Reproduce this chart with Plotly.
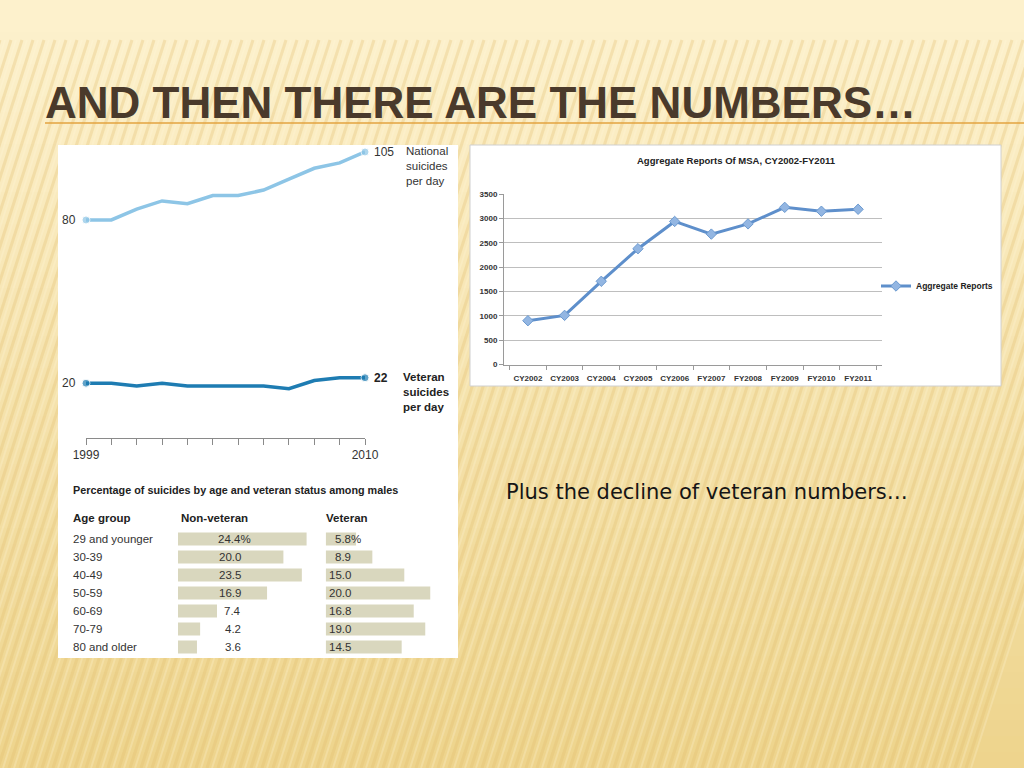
import plotly.graph_objects as go

W, H = 1024, 768
def fx(x): return x / W
def fy(y): return 1 - y / H

# ---------------- data ----------------
years = list(range(1999, 2011))
national_per_day = [80, 80, 84, 87, 86, 89, 89, 91, 95, 99, 101, 105]
veteran_per_day = [20, 20, 19, 20, 19, 19, 19, 19, 18, 21, 22, 22]
year_tick_text = ["1999"] + [""] * 10 + ["2010"]

age_groups = ["29 and younger", "30-39", "40-49", "50-59", "60-69", "70-79", "80 and older"]
non_veteran_pct = [24.4, 20.0, 23.5, 16.9, 7.4, 4.2, 3.6]
veteran_pct = [5.8, 8.9, 15.0, 20.0, 16.8, 19.0, 14.5]

msa_periods = ["CY2002", "CY2003", "CY2004", "CY2005", "CY2006",
               "FY2007", "FY2008", "FY2009", "FY2010", "FY2011"]
msa_reports = [900, 1010, 1710, 2380, 2940, 2680, 2890, 3230, 3150, 3190]

# ---------------- figure ----------------
fig = go.Figure()

LEFT_FONT = "Liberation Sans, Arial, sans-serif"
XL_FONT = "Liberation Sans, Arial, sans-serif"

# left line chart
fig.add_trace(go.Scatter(
    x=years, y=national_per_day, mode="lines+markers",
    line=dict(color="#8DC5E6", width=3.5),
    marker=dict(size=[8] + [0] * 10 + [8], color="#8DC5E6"),
    cliponaxis=False, showlegend=False, hoverinfo="skip",
    xaxis="x", yaxis="y"))
fig.add_trace(go.Scatter(
    x=years, y=veteran_per_day, mode="lines+markers",
    line=dict(color="#1E7CB2", width=3.5),
    marker=dict(size=[8] + [0] * 10 + [8], color="#1E7CB2"),
    cliponaxis=False, showlegend=False, hoverinfo="skip",
    xaxis="x", yaxis="y"))

# table bars
fig.add_trace(go.Bar(
    y=age_groups, x=non_veteran_pct, orientation="h",
    marker=dict(color="#D9D7BE", line=dict(width=0)),
    showlegend=False, hoverinfo="skip", xaxis="x2", yaxis="y2"))
fig.add_trace(go.Bar(
    y=age_groups, x=veteran_pct, orientation="h",
    marker=dict(color="#D9D7BE", line=dict(width=0)),
    showlegend=False, hoverinfo="skip", xaxis="x3", yaxis="y2"))

# right chart
fig.add_trace(go.Scatter(
    x=msa_periods, y=msa_reports, mode="lines+markers",
    name="Aggregate Reports",
    line=dict(color="#5E8FCB", width=3),
    marker=dict(symbol="diamond", size=8, color="#93B6E2",
                line=dict(color="#6C9AD0", width=1)),
    cliponaxis=False, hoverinfo="skip", xaxis="x4", yaxis="y4"))

# ---------------- shapes (background & panels) ----------------
shapes = []
top = (253, 241, 204)
bot = (238, 212, 140)
nb = 48
for i in range(nb):
    y0 = i * H / nb
    y1 = (i + 1) * H / nb
    t = max(0.0, (y0 - 30) / (H - 30))
    c = tuple(int(top[k] + (bot[k] - top[k]) * t) for k in range(3))
    shapes.append(dict(type="rect", xref="paper", yref="paper", layer="below",
                       x0=0, x1=1, y0=fy(y1) - 0.001, y1=fy(y0),
                       fillcolor="rgb(%d,%d,%d)" % c, line=dict(width=0)))
# diagonal stripes
for k in range(-30, 110):
    xt = k * 11
    shapes.append(dict(type="line", xref="paper", yref="paper", layer="below",
                       x0=fx(xt), y0=fy(40), x1=fx(xt - 0.32 * (H - 40)), y1=fy(H),
                       line=dict(color="rgba(225,190,110,0.30)", width=3)))
    shapes.append(dict(type="line", xref="paper", yref="paper", layer="below",
                       x0=fx(xt + 5), y0=fy(40), x1=fx(xt + 5 - 0.32 * (H - 40)), y1=fy(H),
                       line=dict(color="rgba(255,248,220,0.25)", width=2)))
# title underline
shapes.append(dict(type="line", xref="paper", yref="paper", layer="below",
                   x0=fx(45), x1=1, y0=fy(123), y1=fy(123),
                   line=dict(color="#E3A340", width=1.5)))
# panels
shapes.append(dict(type="rect", xref="paper", yref="paper", layer="below",
                   x0=fx(58), x1=fx(458), y0=fy(658), y1=fy(145),
                   fillcolor="white", line=dict(width=0)))
shapes.append(dict(type="rect", xref="paper", yref="paper", layer="below",
                   x0=fx(470), x1=fx(1001), y0=fy(386), y1=fy(145),
                   fillcolor="white", line=dict(color="#D0D0D0", width=1)))

# ---------------- annotations ----------------
ann = []
ann.append(dict(text="<b>AND THEN THERE ARE THE NUMBERS…</b>", xref="paper", yref="paper",
                x=fx(43), y=fy(102), xanchor="left", yanchor="middle", showarrow=False,
                font=dict(family="Liberation Sans, Arial, sans-serif",
                          size=44, color="#4A3A2B")))
ann.append(dict(text="Plus the decline of veteran numbers…", xref="paper", yref="paper",
                x=fx(504), y=fy(492), xanchor="left", yanchor="middle", showarrow=False,
                font=dict(family="DejaVu Sans, sans-serif", size=21, color="#151515")))

lf = dict(family=LEFT_FONT, size=12, color="#333333")
lfb = dict(family=LEFT_FONT, size=12, color="#222222")
# left chart labels
ann.append(dict(text=str(national_per_day[0]), x=years[0], y=national_per_day[0], xref="x", yref="y",
                xanchor="right", yanchor="middle", xshift=-8, showarrow=False, font=lf))
ann.append(dict(text=str(veteran_per_day[0]), x=years[0], y=veteran_per_day[0], xref="x", yref="y",
                xanchor="right", yanchor="middle", xshift=-8, showarrow=False, font=lf))
ann.append(dict(text=str(national_per_day[-1]), x=years[-1], y=national_per_day[-1], xref="x", yref="y",
                xanchor="left", yanchor="middle", xshift=7, showarrow=False, font=lf))
ann.append(dict(text="<b>%d</b>" % veteran_per_day[-1], x=years[-1], y=veteran_per_day[-1], xref="x", yref="y",
                xanchor="left", yanchor="middle", xshift=7, showarrow=False, font=lfb))
ann.append(dict(text="National<br>suicides<br>per day", x=years[-1], y=national_per_day[-1], xref="x", yref="y",
                xanchor="left", yanchor="top", xshift=39, yshift=9, align="left", showarrow=False,
                font=dict(family=LEFT_FONT, size=11.5, color="#333333")))
ann.append(dict(text="<b>Veteran<br>suicides<br>per day</b>", x=years[-1], y=veteran_per_day[-1], xref="x", yref="y",
                xanchor="left", yanchor="top", xshift=36, yshift=9, align="left", showarrow=False,
                font=dict(family=LEFT_FONT, size=11.5, color="#222222")))

# table text
ann.append(dict(text="<b>Percentage of suicides by age and veteran status among males</b>", xref="paper", yref="paper",
                x=fx(71), y=fy(490), xanchor="left", yanchor="middle", showarrow=False,
                font=dict(family=LEFT_FONT, size=10.8, color="#222222")))
for txt, xp in [("Age group", 71), ("Non-veteran", 179), ("Veteran", 324)]:
    ann.append(dict(text="<b>%s</b>" % txt, xref="paper", yref="paper",
                    x=fx(xp), y=fy(518), xanchor="left", yanchor="middle", showarrow=False,
                    font=dict(family=LEFT_FONT, size=11.5, color="#222222")))
for i, g in enumerate(age_groups):
    ann.append(dict(text=g, xref="paper", yref="y2", x=fx(71), y=g, xanchor="left", yanchor="middle",
                    showarrow=False, font=dict(family=LEFT_FONT, size=11.5, color="#333333")))
    suffix = "%" if i == 0 else ""
    off = 10 if i == 0 else 0
    ann.append(dict(text="%.1f%s" % (non_veteran_pct[i], suffix), xref="paper", yref="y2",
                    x=fx(243 + off), y=g, xanchor="right", yanchor="middle", showarrow=False,
                    font=dict(family=LEFT_FONT, size=11.5, color="#333333")))
    ann.append(dict(text="%.1f%s" % (veteran_pct[i], suffix), xref="paper", yref="y2",
                    x=fx(353 + off), y=g, xanchor="right", yanchor="middle", showarrow=False,
                    font=dict(family=LEFT_FONT, size=11.5, color="#333333")))

# right chart title
ann.append(dict(text="<b>Aggregate Reports Of MSA, CY2002-FY2011</b>", xref="paper", yref="paper",
                x=fx(736), y=fy(161), xanchor="center", yanchor="middle", showarrow=False,
                font=dict(family=XL_FONT, size=9.5, color="#222222")))

# ---------------- layout ----------------
fig.update_layout(
    template="none",
    width=W, height=H, margin=dict(l=0, r=0, t=0, b=0, pad=0, autoexpand=False),
    paper_bgcolor="#FCEFC7", plot_bgcolor="rgba(0,0,0,0)",
    bargap=0.28, shapes=shapes, annotations=ann,
    xaxis=dict(domain=[fx(86), fx(365)], range=[1999, 2010], anchor="y",
               tickvals=years, ticktext=year_tick_text, ticks="outside", ticklen=6,
               tickcolor="#8A8A8A", showline=True, linecolor="#8A8A8A", linewidth=1,
               showgrid=False, zeroline=False, automargin=False,
               tickfont=dict(family=LEFT_FONT, size=12, color="#333333")),
    yaxis=dict(domain=[fy(438), fy(140)], range=[-0.15, 109.4], visible=False, anchor="x"),
    xaxis2=dict(domain=[fx(178), fx(178 + 25 * 5.27)], range=[0, 25], visible=False, anchor="y2"),
    xaxis3=dict(domain=[fx(325.7), fx(325.7 + 20 * 5.24)], range=[0, 20], visible=False, anchor="y2"),
    yaxis2=dict(domain=[fy(656), fy(530)], type="category", categoryorder="array",
                categoryarray=age_groups, autorange="reversed", visible=False, anchor="x2"),
    xaxis4=dict(domain=[fx(504), fx(882)], type="category", anchor="y4", tickangle=0,
                showline=True, linecolor="#9A9A9A", ticks="outside", tickson="boundaries",
                ticklen=4, tickcolor="#9A9A9A", showgrid=False, automargin=False,
                ticklabelstandoff=6,
                tickfont=dict(family=XL_FONT, size=8, color="#333333", weight="bold")),
    yaxis4=dict(domain=[fy(364.5), fy(194.2)], range=[0, 3500], dtick=500, anchor="x4",
                showline=True, linecolor="#9A9A9A", ticks="outside", ticklen=4, tickcolor="#9A9A9A",
                showgrid=True, gridcolor="#BEBEBE", gridwidth=1, zeroline=False, automargin=False,
                tickfont=dict(family=XL_FONT, size=8, color="#333333", weight="bold")),
    legend=dict(x=fx(876), y=fy(286), xanchor="left", yanchor="middle",
                bgcolor="rgba(0,0,0,0)", itemwidth=30,
                font=dict(family=XL_FONT, size=8.5, color="#222222", weight="bold")),
)

fig.write_html("out.html", config={"displayModeBar": False},
               post_script="document.body.style.margin='0';document.body.style.background='#FCEFC7';")
